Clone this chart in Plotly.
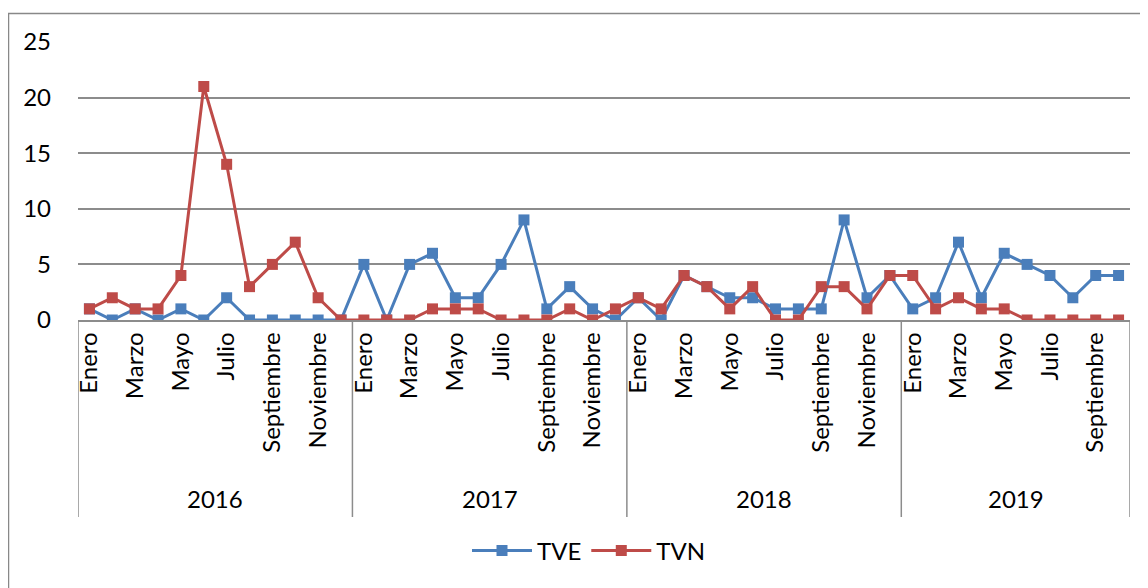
import plotly.graph_objects as go

years = ["2016", "2017", "2018", "2019"]
months = ["Enero", "Febrero", "Marzo", "Abril", "Mayo", "Junio", "Julio",
          "Agosto", "Septiembre", "Octubre", "Noviembre", "Diciembre"]
months_per_year = [12, 12, 12, 10]

tve = [1, 0, 1, 0, 1, 0, 2, 0, 0, 0, 0, 0,
       5, 0, 5, 6, 2, 2, 5, 9, 1, 3, 1, 0,
       2, 0, 4, 3, 2, 2, 1, 1, 1, 9, 2, 4,
       1, 2, 7, 2, 6, 5, 4, 2, 4, 4]
tvn = [1, 2, 1, 1, 4, 21, 14, 3, 5, 7, 2, 0,
       0, 0, 0, 1, 1, 1, 0, 0, 0, 1, 0, 1,
       2, 1, 4, 3, 1, 3, 0, 0, 3, 3, 1, 4,
       4, 1, 2, 1, 1, 0, 0, 0, 0, 0]

FONT = "Lato"
FS = 24
BLUE = "#4A7EBB"
RED = "#BE4B48"
GRID = "#8C8C8C"

xs, labels = [], []
for y, n in zip(years, months_per_year):
    for m in range(n):
        xs.append(len(xs))
        labels.append(months[m])
tickvals = [i for i, l in zip(xs, labels) if months.index(l) % 2 == 0]
ticktext = [labels[i] for i in tickvals]

fig = go.Figure()
fig.add_trace(go.Scatter(x=xs, y=tve, name="TVE", mode="lines+markers",
                         line=dict(color=BLUE, width=3),
                         marker=dict(symbol="square", size=11, color=BLUE)))
fig.add_trace(go.Scatter(x=xs, y=tvn, name="TVN", mode="lines+markers",
                         line=dict(color=RED, width=3),
                         marker=dict(symbol="square", size=11, color=RED)))

OFF = 8  # page body margin
W, H = 1148, 588
L, R, T, B = 78 - OFF, 1130 - OFF, 42 - OFF, 320 - OFF
ph = B - T
pw = R - L

def py(pix):
    return (B - (pix - OFF)) / ph

def px(pix):
    return ((pix - OFF) - L) / pw

shapes = []
start = 0
bounds = [-0.5]
for n in months_per_year:
    start += n
    bounds.append(start - 0.5)
for b in bounds:
    shapes.append(dict(type="line", xref="x", yref="paper", x0=b, x1=b,
                       y0=0, y1=py(517), line=dict(color=GRID, width=1.5)))
shapes.append(dict(type="rect", xref="paper", yref="paper",
                   x0=px(8.5), x1=px(1160), y0=py(13.5), y1=py(600),
                   line=dict(color="#888888", width=1.5)))

annotations = []
start = 0
for y, n in zip(years, months_per_year):
    annotations.append(dict(text=y, xref="x", yref="paper",
                            x=start + (n - 1) / 2, y=py(498),
                            showarrow=False, xanchor="center", yanchor="middle",
                            font=dict(family=FONT, size=FS, color="#000000")))
    start += n

fig.update_layout(
    width=W, height=H,
    margin=dict(l=L, r=W - R, t=T, b=H - B, pad=0),
    paper_bgcolor="white", plot_bgcolor="white",
    font=dict(family=FONT, size=FS, color="#000000"),
    showlegend=True,
    legend=dict(orientation="h", x=px(589), y=py(551), xanchor="center",
                yanchor="middle", font=dict(family=FONT, size=FS),
                itemwidth=60, tracegroupgap=0),
    shapes=shapes,
    annotations=annotations,
    xaxis=dict(range=[-0.5, len(xs) - 0.5], tickmode="array",
               tickvals=tickvals, ticktext=ticktext, tickangle=-90,
               showgrid=False, zeroline=False, showline=True,
               linecolor=GRID, linewidth=1.5, ticks="",
               ticklabelstandoff=1,
               tickfont=dict(family=FONT, size=FS)),
    yaxis=dict(range=[0, 25], dtick=5, showgrid=True, gridcolor=GRID,
               gridwidth=1.5, zeroline=False, showline=False, ticks="",
               ticklabelstandoff=26,
               tickfont=dict(family=FONT, size=FS)),
)

fig.write_html("out.html")
